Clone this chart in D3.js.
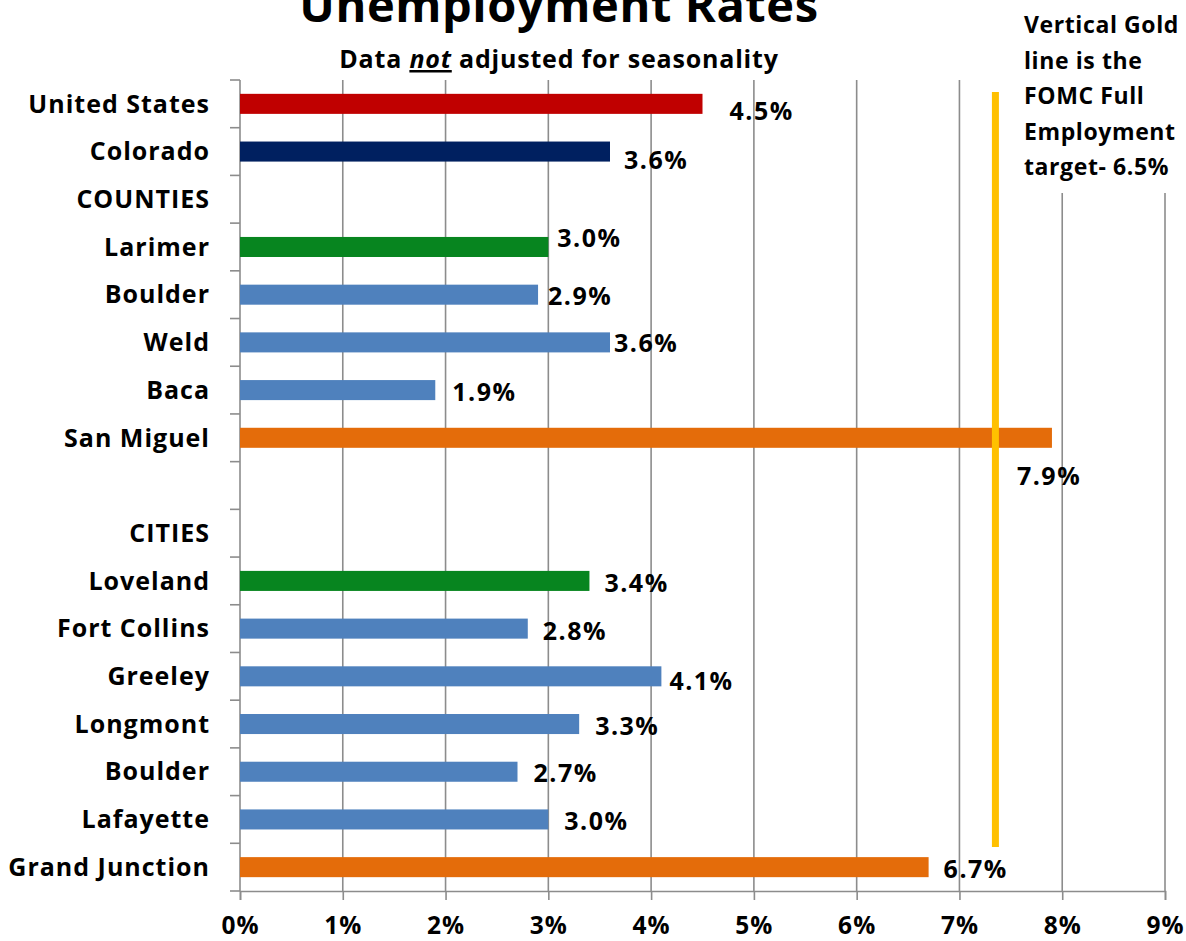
<!DOCTYPE html>
<html>
<head>
<meta charset="utf-8">
<script src="https://cdn.jsdelivr.net/npm/d3@7"></script>
<style>
  body { margin: 0; background: #fff; }
  svg { display: block; font-family: "Open Sans", Lato, sans-serif; font-weight: 700; }
</style>
</head>
<body>
<svg width="1186" height="941"></svg>
<script>
'use strict';

// rows of the chart, top to bottom (blank rows are section headers / spacer)
var categories = ['United States', 'Colorado', 'COUNTIES', 'Larimer', 'Boulder', 'Weld', 'Baca', 'San Miguel', '',
  'CITIES', 'Loveland', 'Fort Collins', 'Greeley', 'Longmont', 'Boulder', 'Lafayette', 'Grand Junction'];
var rates = [4.5, 3.6, null, 3.0, 2.9, 3.6, 1.9, 7.9, null, null, 3.4, 2.8, 4.1, 3.3, 2.7, 3.0, 6.7];
var groups = ['us', 'state', null, 'home', 'county', 'county', 'county', 'high', null,
  null, 'home', 'city', 'city', 'city', 'city', 'city', 'high'];
var xTicks = [0, 1, 2, 3, 4, 5, 6, 7, 8, 9];
var goldLine = 7.35; // where the gold line sits in the picture
var noteLines = ['Vertical Gold', 'line is the', 'FOMC Full', 'Employment', 'target- 6.5%'];

// hand-moved data labels (like in the original spreadsheet)
var labelNudge = [[27, 7], [14, 9], null, [9, -9], [10, 2], [4, 1], [17, 2], [-35, 38], null,
  null, [15, 2], [15, 3], [8, 5], [16, 2], [16, 2], [16, 2], [15, 2]];

var colors = { us: '#c00000', state: '#002060', home: '#07851f', county: '#4f81bd', city: '#4f81bd', high: '#e46c0a' };

var svg = d3.select('svg');
var plotLeft = 240, plotRight = 1165, plotTop = 80, plotBottom = 891;

var x = d3.scaleLinear().domain([0, 9]).range([plotLeft, plotRight]);
var y = d3.scaleBand().domain(d3.range(categories.length)).range([plotTop, plotBottom])
  .paddingInner(0.58).paddingOuter(0.29);
var step = y.step();

// vertical gridlines
svg.append('g').selectAll('line').data(xTicks.slice(1)).enter().append('line')
  .attr('x1', function (d) { return x(d); })
  .attr('x2', function (d) { return x(d); })
  .attr('y1', plotTop).attr('y2', plotBottom)
  .attr('stroke', '#8c8c8c').attr('stroke-width', 1.6);

// y axis line + ticks at row boundaries
svg.append('line').attr('x1', plotLeft).attr('x2', plotLeft).attr('y1', plotTop).attr('y2', plotBottom)
  .attr('stroke', '#8c8c8c').attr('stroke-width', 1.6);
svg.append('g').selectAll('line').data(d3.range(categories.length + 1)).enter().append('line')
  .attr('x1', plotLeft - 10).attr('x2', plotLeft)
  .attr('y1', function (i) { return plotTop + i * step; })
  .attr('y2', function (i) { return plotTop + i * step; })
  .attr('stroke', '#8c8c8c').attr('stroke-width', 1.6);

// x axis
var xAxis = svg.append('g').attr('transform', 'translate(0,' + plotBottom + ')')
  .call(d3.axisBottom(x).tickValues(xTicks).tickSize(9).tickPadding(17)
    .tickFormat(function (d) { return d + '%'; }));
xAxis.select('.domain').attr('stroke', '#8c8c8c').attr('stroke-width', 1.6);
xAxis.selectAll('.tick line').attr('stroke', '#8c8c8c').attr('stroke-width', 1.6);
xAxis.selectAll('.tick text').attr('fill', '#000').attr('font-size', 24.5)
  .attr('letter-spacing', 1)
  .attr('font-family', '"Open Sans", sans-serif').attr('font-weight', 700);

// category labels
svg.append('g').selectAll('text').data(categories).enter().append('text')
  .attr('x', 210)
  .attr('y', function (d, i) { return y(i) + y.bandwidth() / 2; })
  .attr('dy', '0.35em')
  .attr('text-anchor', 'end')
  .attr('font-size', 25)
  .attr('letter-spacing', 1)
  .text(function (d) { return d; });

// bars
var rows = rates.map(function (v, i) { return { i: i, v: v, g: groups[i], n: labelNudge[i] }; })
  .filter(function (d) { return d.v !== null; });

svg.append('g').selectAll('rect').data(rows).enter().append('rect')
  .attr('x', x(0))
  .attr('y', function (d) { return y(d.i); })
  .attr('width', function (d) { return x(d.v) - x(0); })
  .attr('height', y.bandwidth())
  .attr('fill', function (d) { return colors[d.g]; });

// gold target line
svg.append('line')
  .attr('x1', x(goldLine)).attr('x2', x(goldLine))
  .attr('y1', 92).attr('y2', 847)
  .attr('stroke', '#ffc000').attr('stroke-width', 7);

// value labels
svg.append('g').selectAll('text').data(rows).enter().append('text')
  .attr('x', function (d) { return x(d.v) + d.n[0]; })
  .attr('y', function (d) { return y(d.i) + y.bandwidth() / 2 + d.n[1]; })
  .attr('dy', '0.35em')
  .attr('font-size', 25)
  .attr('letter-spacing', 1.5)
  .text(function (d) { return d.v.toFixed(1) + '%'; });

// note box (white background hides the gridlines behind it)
svg.append('rect').attr('x', 1012).attr('y', 0).attr('width', 174).attr('height', 193).attr('fill', '#fff');
svg.append('g').selectAll('text').data(noteLines).enter().append('text')
  .attr('x', 1024)
  .attr('y', function (d, i) { return 33 + i * 35.5; })
  .attr('font-size', 23)
  .attr('letter-spacing', 0.6)
  .text(function (d) { return d; });

// titles
svg.append('text').attr('x', 559).attr('y', 22).attr('text-anchor', 'middle')
  .attr('font-size', 47).attr('letter-spacing', 0.6).text('Unemployment Rates');

var sub = svg.append('text').attr('x', 559).attr('y', 68).attr('text-anchor', 'middle')
  .attr('font-size', 25).attr('letter-spacing', 0.8);
sub.append('tspan').text('Data ');
sub.append('tspan').attr('font-style', 'italic').attr('text-decoration', 'underline').text('not');
sub.append('tspan').text(' adjusted for seasonality');
</script>
</body>
</html>
